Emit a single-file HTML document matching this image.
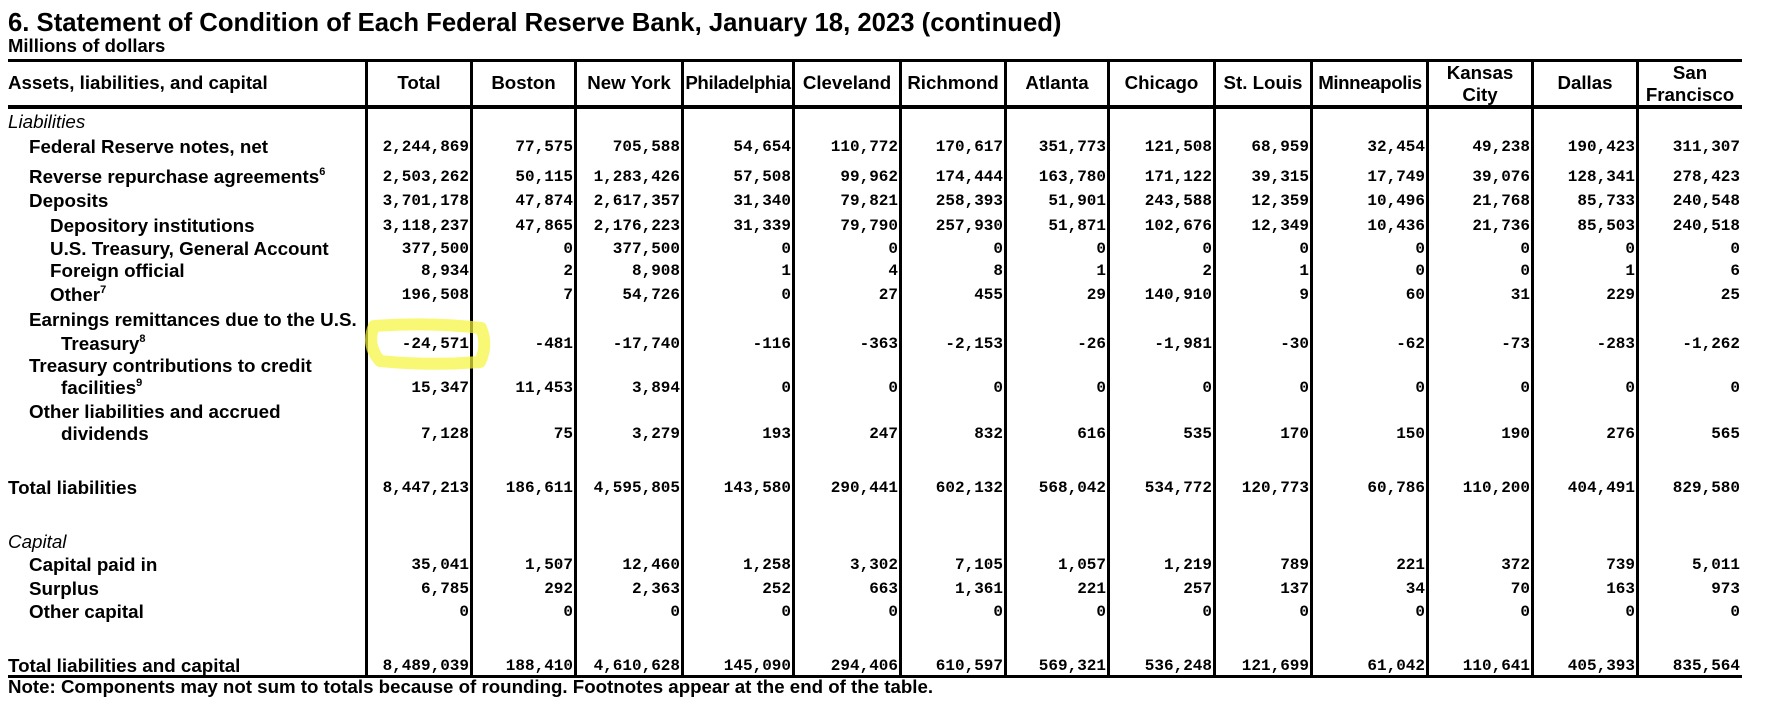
<!DOCTYPE html>
<html><head><meta charset="utf-8">
<style>
html,body{margin:0;padding:0;background:#fff;}
body{width:1769px;height:723px;position:relative;overflow:hidden;font-family:"Liberation Sans",Arial,sans-serif;color:#000;}
.a{position:absolute;white-space:nowrap;}
.h{position:absolute;top:0;height:20px;line-height:20px;font-weight:bold;font-size:18.7px;text-align:center;white-space:nowrap;}
.r{position:absolute;left:0;width:1769px;height:20px;}
.r span{position:absolute;top:0;text-align:right;font-family:"Liberation Mono","DejaVu Sans Mono",monospace;font-weight:bold;font-size:16px;line-height:20px;}
.r b{position:absolute;top:0;font-size:18.8px;line-height:20px;white-space:nowrap;}
.r i{position:absolute;top:0;font-size:18.8px;line-height:20px;left:8px;}
sup{font-size:11px;vertical-align:baseline;position:relative;top:-8px;line-height:0;}
.c1{left:369px;width:100px}.c2{left:474px;width:99px}.c3{left:578px;width:102px}.c4{left:685px;width:106px}
.c5{left:796px;width:102px}.c6{left:903px;width:100px}.c7{left:1008px;width:98px}.c8{left:1111px;width:101px}
.c9{left:1217px;width:92px}.c10{left:1314px;width:111px}.c11{left:1430px;width:100px}.c12{left:1535px;width:100px}.c13{left:1640px;width:100px}
.hl{position:absolute;background:#000;}
.v{position:absolute;background:#000;top:59px;width:3px;height:619px;}
</style></head><body>
<div class="a" style="left:8px;top:8px;font-size:25.7px;font-weight:bold;line-height:30px;">6. Statement of Condition of Each Federal Reserve Bank, January 18, 2023 (continued)</div>
<div class="a" style="left:8px;top:36px;font-size:18.5px;font-weight:bold;line-height:20px;">Millions of dollars</div>

<div class="hl" style="left:8px;top:59px;width:1734px;height:3px"></div>
<div class="hl" style="left:8px;top:105px;width:1734px;height:4px"></div>
<div class="hl" style="left:8px;top:675px;width:1734px;height:3px"></div>
<div class="v" style="left:365px"></div>
<div class="v" style="left:470px"></div>
<div class="v" style="left:574px"></div>
<div class="v" style="left:681px"></div>
<div class="v" style="left:792px"></div>
<div class="v" style="left:899px"></div>
<div class="v" style="left:1004px"></div>
<div class="v" style="left:1107px"></div>
<div class="v" style="left:1213px"></div>
<div class="v" style="left:1310px"></div>
<div class="v" style="left:1426px"></div>
<div class="v" style="left:1531px"></div>
<div class="v" style="left:1636px"></div>

<div class="r" style="top:73px">
<div class="h" style="left:8px;text-align:left">Assets, liabilities, and capital</div>
<div class="h c1">Total</div><div class="h c2">Boston</div><div class="h c3">New York</div>
<div class="h" style="left:683px;width:110px;letter-spacing:-0.4px">Philadelphia</div><div class="h c5">Cleveland</div><div class="h c6">Richmond</div>
<div class="h c7">Atlanta</div><div class="h c8">Chicago</div><div class="h c9">St. Louis</div>
<div class="h" style="left:1312px;width:116px;letter-spacing:-0.4px">Minneapolis</div>
<div class="h c11" style="top:-10px">Kansas</div><div class="h c11" style="top:12px">City</div>
<div class="h c12">Dallas</div>
<div class="h c13" style="top:-10px">San</div><div class="h c13" style="top:12px">Francisco</div>
</div>

<div class="r" style="top:112px"><i>Liabilities</i></div>
<div class="r" style="top:137px"><b style="left:29px">Federal Reserve notes, net</b>
<span class="c1">2,244,869</span><span class="c2">77,575</span><span class="c3">705,588</span><span class="c4">54,654</span><span class="c5">110,772</span><span class="c6">170,617</span><span class="c7">351,773</span><span class="c8">121,508</span><span class="c9">68,959</span><span class="c10">32,454</span><span class="c11">49,238</span><span class="c12">190,423</span><span class="c13">311,307</span></div>
<div class="r" style="top:167px"><b style="left:29px">Reverse repurchase agreements<sup>6</sup></b>
<span class="c1">2,503,262</span><span class="c2">50,115</span><span class="c3">1,283,426</span><span class="c4">57,508</span><span class="c5">99,962</span><span class="c6">174,444</span><span class="c7">163,780</span><span class="c8">171,122</span><span class="c9">39,315</span><span class="c10">17,749</span><span class="c11">39,076</span><span class="c12">128,341</span><span class="c13">278,423</span></div>
<div class="r" style="top:191px"><b style="left:29px">Deposits</b>
<span class="c1">3,701,178</span><span class="c2">47,874</span><span class="c3">2,617,357</span><span class="c4">31,340</span><span class="c5">79,821</span><span class="c6">258,393</span><span class="c7">51,901</span><span class="c8">243,588</span><span class="c9">12,359</span><span class="c10">10,496</span><span class="c11">21,768</span><span class="c12">85,733</span><span class="c13">240,548</span></div>
<div class="r" style="top:216px"><b style="left:50px">Depository institutions</b>
<span class="c1">3,118,237</span><span class="c2">47,865</span><span class="c3">2,176,223</span><span class="c4">31,339</span><span class="c5">79,790</span><span class="c6">257,930</span><span class="c7">51,871</span><span class="c8">102,676</span><span class="c9">12,349</span><span class="c10">10,436</span><span class="c11">21,736</span><span class="c12">85,503</span><span class="c13">240,518</span></div>
<div class="r" style="top:239px"><b style="left:50px">U.S. Treasury, General Account</b>
<span class="c1">377,500</span><span class="c2">0</span><span class="c3">377,500</span><span class="c4">0</span><span class="c5">0</span><span class="c6">0</span><span class="c7">0</span><span class="c8">0</span><span class="c9">0</span><span class="c10">0</span><span class="c11">0</span><span class="c12">0</span><span class="c13">0</span></div>
<div class="r" style="top:261px"><b style="left:50px">Foreign official</b>
<span class="c1">8,934</span><span class="c2">2</span><span class="c3">8,908</span><span class="c4">1</span><span class="c5">4</span><span class="c6">8</span><span class="c7">1</span><span class="c8">2</span><span class="c9">1</span><span class="c10">0</span><span class="c11">0</span><span class="c12">1</span><span class="c13">6</span></div>
<div class="r" style="top:285px"><b style="left:50px">Other<sup>7</sup></b>
<span class="c1">196,508</span><span class="c2">7</span><span class="c3">54,726</span><span class="c4">0</span><span class="c5">27</span><span class="c6">455</span><span class="c7">29</span><span class="c8">140,910</span><span class="c9">9</span><span class="c10">60</span><span class="c11">31</span><span class="c12">229</span><span class="c13">25</span></div>
<div class="r" style="top:310px"><b style="left:29px">Earnings remittances due to the U.S.</b></div>
<div class="r" style="top:334px"><b style="left:61px">Treasury<sup>8</sup></b>
<span class="c1">-24,571</span><span class="c2">-481</span><span class="c3">-17,740</span><span class="c4">-116</span><span class="c5">-363</span><span class="c6">-2,153</span><span class="c7">-26</span><span class="c8">-1,981</span><span class="c9">-30</span><span class="c10">-62</span><span class="c11">-73</span><span class="c12">-283</span><span class="c13">-1,262</span></div>
<div class="r" style="top:356px"><b style="left:29px">Treasury contributions to credit</b></div>
<div class="r" style="top:378px"><b style="left:61px">facilities<sup>9</sup></b>
<span class="c1">15,347</span><span class="c2">11,453</span><span class="c3">3,894</span><span class="c4">0</span><span class="c5">0</span><span class="c6">0</span><span class="c7">0</span><span class="c8">0</span><span class="c9">0</span><span class="c10">0</span><span class="c11">0</span><span class="c12">0</span><span class="c13">0</span></div>
<div class="r" style="top:402px"><b style="left:29px">Other liabilities and accrued</b></div>
<div class="r" style="top:424px"><b style="left:61px">dividends</b>
<span class="c1">7,128</span><span class="c2">75</span><span class="c3">3,279</span><span class="c4">193</span><span class="c5">247</span><span class="c6">832</span><span class="c7">616</span><span class="c8">535</span><span class="c9">170</span><span class="c10">150</span><span class="c11">190</span><span class="c12">276</span><span class="c13">565</span></div>
<div class="r" style="top:478px"><b style="left:8px">Total liabilities</b>
<span class="c1">8,447,213</span><span class="c2">186,611</span><span class="c3">4,595,805</span><span class="c4">143,580</span><span class="c5">290,441</span><span class="c6">602,132</span><span class="c7">568,042</span><span class="c8">534,772</span><span class="c9">120,773</span><span class="c10">60,786</span><span class="c11">110,200</span><span class="c12">404,491</span><span class="c13">829,580</span></div>
<div class="r" style="top:532px"><i>Capital</i></div>
<div class="r" style="top:555px"><b style="left:29px">Capital paid in</b>
<span class="c1">35,041</span><span class="c2">1,507</span><span class="c3">12,460</span><span class="c4">1,258</span><span class="c5">3,302</span><span class="c6">7,105</span><span class="c7">1,057</span><span class="c8">1,219</span><span class="c9">789</span><span class="c10">221</span><span class="c11">372</span><span class="c12">739</span><span class="c13">5,011</span></div>
<div class="r" style="top:579px"><b style="left:29px">Surplus</b>
<span class="c1">6,785</span><span class="c2">292</span><span class="c3">2,363</span><span class="c4">252</span><span class="c5">663</span><span class="c6">1,361</span><span class="c7">221</span><span class="c8">257</span><span class="c9">137</span><span class="c10">34</span><span class="c11">70</span><span class="c12">163</span><span class="c13">973</span></div>
<div class="r" style="top:602px"><b style="left:29px">Other capital</b>
<span class="c1">0</span><span class="c2">0</span><span class="c3">0</span><span class="c4">0</span><span class="c5">0</span><span class="c6">0</span><span class="c7">0</span><span class="c8">0</span><span class="c9">0</span><span class="c10">0</span><span class="c11">0</span><span class="c12">0</span><span class="c13">0</span></div>
<div class="r" style="top:656px"><b style="left:8px">Total liabilities and capital</b>
<span class="c1">8,489,039</span><span class="c2">188,410</span><span class="c3">4,610,628</span><span class="c4">145,090</span><span class="c5">294,406</span><span class="c6">610,597</span><span class="c7">569,321</span><span class="c8">536,248</span><span class="c9">121,699</span><span class="c10">61,042</span><span class="c11">110,641</span><span class="c12">405,393</span><span class="c13">835,564</span></div>
<div class="a" style="left:8px;top:677px;font-size:18.7px;font-weight:bold;line-height:20px;">Note: Components may not sum to totals because of rounding. Footnotes appear at the end of the table.</div>

<svg width="1769" height="723" style="position:absolute;left:0;top:0" viewBox="0 0 1769 723">
<path d="M374 326 Q366 345 380 361 Q430 366 480 362 Q488 345 481 328 Q430 322 374 326 Z" fill="none" stroke="#f6f53a" stroke-opacity="0.7" stroke-width="12" stroke-linejoin="round"/>
</svg>
</body></html>
